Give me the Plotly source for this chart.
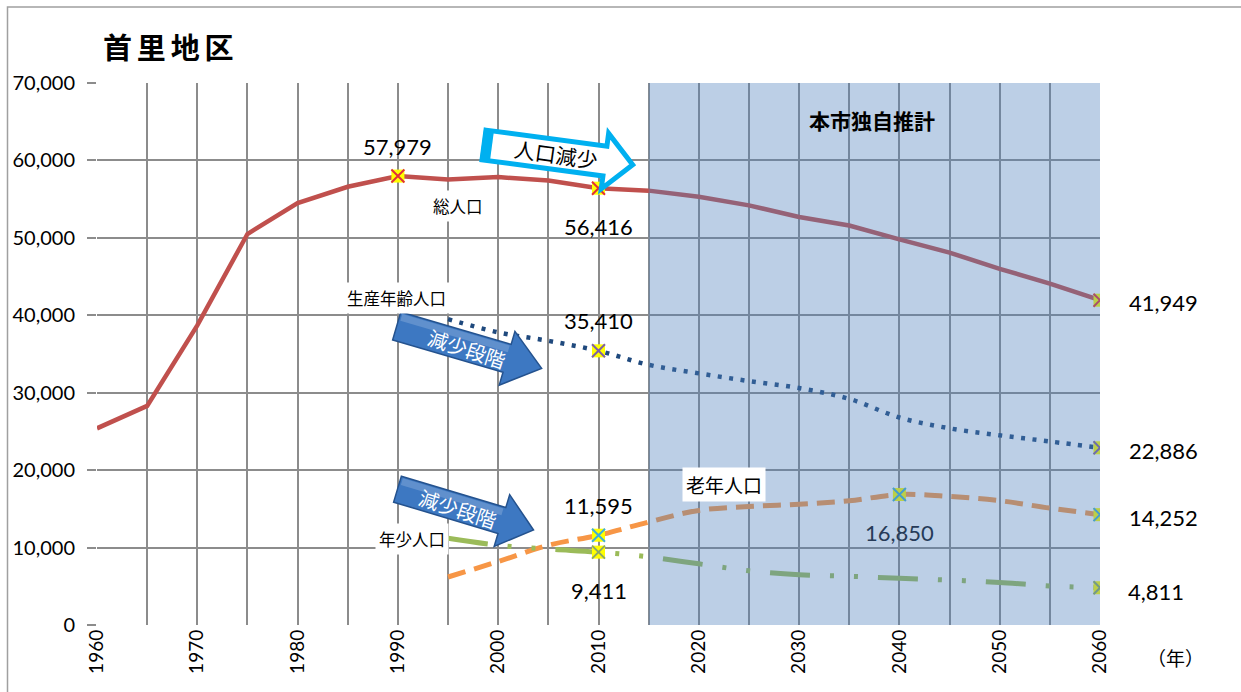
import math
import plotly.graph_objects as go

# ---- data -------------------------------------------------------------
years = [1960, 1965, 1970, 1975, 1980, 1985, 1990, 1995, 2000, 2005, 2010,
         2015, 2020, 2025, 2030, 2035, 2040, 2045, 2050, 2055, 2060]

total_pop = [25400, 28300, 38700, 50500, 54500, 56600, 57979, 57550, 57850, 57400, 56416,
             56100, 55300, 54200, 52700, 51600, 49800, 48100, 46000, 44100, 41949]
working_pop = [None, None, None, None, None, None, None, 39500, 37800, 36700, 35410,
               33600, 32500, 31500, 30600, 29200, 26800, 25400, 24500, 23700, 22886]
elderly_pop = [None, None, None, None, None, None, None, 6200, 8200, 10300, 11595,
               13300, 14800, 15300, 15600, 16050, 16850, 16600, 16050, 15100, 14252]
youth_pop = [None, None, None, None, None, None, None, 11200, 10300, 9800, 9411,
             8800, 7900, 7000, 6500, 6300, 6030, 5800, 5500, 5040, 4811]

series_names = ["総人口", "生産年齢人口", "老年人口", "年少人口"]
tick_years = list(range(1960, 2061, 5))
projection_start = 2015

# highlighted points: (series index, year)
highlight = {
    0: [1990, 2010, 2060],
    1: [2010, 2060],
    2: [2010, 2040, 2060],
    3: [2010, 2060],
}

# ---- geometry helpers (pixel -> paper) ----------------------------------
W_FIG, H_FIG = 1241, 692
M_L, M_R, M_T, M_B = 97, 141, 83, 67
PW = W_FIG - M_L - M_R
PH = H_FIG - M_T - M_B


def px(x):
    return (x - M_L) / PW


def py(y):
    return (H_FIG - M_B - y) / PH


def poly_path(pts):
    return "M " + " L ".join(f"{px(x):.5f},{py(y):.5f}" for x, y in pts) + " Z"


def arrow_pts(x0, y0, ang_deg, length, body_h, head_h, head_len):
    a = math.radians(ang_deg)
    c, s = math.cos(a), math.sin(a)
    local = [(0, -body_h), (length - head_len, -body_h), (length - head_len, -head_h),
             (length, 0), (length - head_len, head_h), (length - head_len, body_h), (0, body_h)]
    return [(x0 + u * c - v * s, y0 + u * s + v * c) for u, v in local]


def quad_pts(x0, y0, ang_deg, u0, u1, v0, v1):
    a = math.radians(ang_deg)
    c, s = math.cos(a), math.sin(a)
    local = [(u0, v0), (u1, v0), (u1, v1), (u0, v1)]
    return [(x0 + u * c - v * s, y0 + u * s + v * c) for u, v in local]


# ---- styles ------------------------------------------------------------
NUM_FONT = "Lato, 'Open Sans', sans-serif"
JP_FONT = "'Noto Sans CJK JP', sans-serif"
GRID = "#8c8c8c"

line_styles = [
    dict(color="#C0504D", width=4.5),
    dict(color="#1F497D", width=4.5, dash="4px,7.5px"),
    dict(color="#F79646", width=5, dash="18px,9px"),
    dict(color="#9BBB59", width=5, dash="40px,20px,4px,20px,4px,20px"),
]
line_shapes = ["linear", "spline", "spline", "spline"]
x_colors = ["#E0303A", "#7F5FA8", "#3FB0D8", "#8AA86A"]

all_series = [total_pop, working_pop, elderly_pop, youth_pop]

fig = go.Figure()

for i, vals in enumerate(all_series):
    fig.add_trace(go.Scatter(
        x=years, y=vals, mode="lines", name=series_names[i],
        line=dict(shape=line_shapes[i], **line_styles[i]),
        connectgaps=False, hoverinfo="skip", showlegend=False,
    ))

for i, vals in enumerate(all_series):
    hx = highlight[i]
    hy = [vals[years.index(yr)] for yr in hx]
    fig.add_trace(go.Scatter(
        x=hx, y=hy, mode="markers", showlegend=False, hoverinfo="skip",
        marker=dict(symbol="square", size=13, color="#FFFF00", line=dict(width=0)),
    ))
    fig.add_trace(go.Scatter(
        x=hx, y=hy, mode="markers", showlegend=False, hoverinfo="skip",
        marker=dict(symbol="x-thin-open", size=13, color=x_colors[i],
                    line=dict(width=2, color=x_colors[i])),
    ))

# ---- value labels --------------------------------------------------------
def val(series, yr):
    return series[years.index(yr)]


value_labels = [
    (total_pop, 1990, 0, 30, "center", "black"),
    (total_pop, 2010, 0, -38, "center", "black"),
    (working_pop, 2010, 0, 30, "center", "black"),
    (elderly_pop, 2010, 0, 30, "center", "black"),
    (youth_pop, 2010, 0, -38, "center", "black"),
    (elderly_pop, 2040, 0, -38, "center", "#263b58"),
    (total_pop, 2060, 27, -2, "left", "black"),
    (working_pop, 2060, 27, -3, "left", "black"),
    (elderly_pop, 2060, 27, -3, "left", "black"),
    (youth_pop, 2060, 26, -4, "left", "black"),
]

annotations = []
for series, yr, xs, ys, anchor, col in value_labels:
    v = val(series, yr)
    annotations.append(dict(
        x=yr, y=v, xref="x", yref="y", text=f"{v:,}", showarrow=False,
        xanchor=anchor, yanchor="middle", xshift=xs, yshift=ys,
        font=dict(family=NUM_FONT, size=22, color=col),
    ))

# series name labels
name_labels = [
    (series_names[0], 458, 206, 16.5),
    (series_names[1], 396, 298, 16.5),
    (series_names[3], 412, 539, 16.5),
    (series_names[2], 724, 484, 19),
]
for txt, x, y, size in name_labels:
    annotations.append(dict(
        x=px(x), y=py(y), xref="paper", yref="paper", text=txt, showarrow=False,
        xanchor="center", yanchor="middle", bgcolor="white", borderpad=3,
        font=dict(family=JP_FONT, size=size, color="black"),
    ))

# title, projection note, unit
annotations += [
    dict(x=px(168), y=py(46), xref="paper", yref="paper",
         text="<b>首\u2006里\u2006地\u2006区</b>",
         showarrow=False, xanchor="center", yanchor="middle",
         font=dict(family=JP_FONT, size=29, color="black")),
    dict(x=px(872), y=py(120), xref="paper", yref="paper", text="<b>本市独自推計</b>",
         showarrow=False, xanchor="center", yanchor="middle",
         font=dict(family=JP_FONT, size=21, color="black")),
    dict(x=px(1175), y=py(657), xref="paper", yref="paper", text="（年）",
         showarrow=False, xanchor="center", yanchor="middle",
         font=dict(family=JP_FONT, size=19, color="black")),
]

# arrow captions
annotations += [
    dict(x=px(556), y=py(154), xref="paper", yref="paper", text="人口減少",
         showarrow=False, textangle=8, xanchor="center", yanchor="middle",
         font=dict(family=JP_FONT, size=21, color="black")),
    dict(x=px(467), y=py(348), xref="paper", yref="paper", text="減少段階",
         showarrow=False, textangle=18, xanchor="center", yanchor="middle",
         font=dict(family=JP_FONT, size=20, color="white")),
    dict(x=px(458), y=py(508), xref="paper", yref="paper", text="減少段階",
         showarrow=False, textangle=18, xanchor="center", yanchor="middle",
         font=dict(family=JP_FONT, size=20, color="white")),
]

# ---- shapes ----------------------------------------------------------------
ARROW_BLUE = "#3d78c2"
ARROW_EDGE = "#24528e"
shapes = [
    # outer frame
    dict(type="rect", xref="paper", yref="paper",
         x0=px(7.5), x1=px(1250), y0=py(7), y1=py(700),
         line=dict(color="#a0a0a0", width=1.5), fillcolor="rgba(0,0,0,0)", layer="below"),
    # projection period overlay
    dict(type="rect", xref="x", yref="y", x0=projection_start, x1=2060, y0=-250, y1=70000,
         fillcolor="rgba(79,129,189,0.38)", line=dict(width=0), layer="above"),
    # 人口減少 arrow
    dict(type="path", xref="paper", yref="paper",
         path=poly_path(arrow_pts(484, 145, 7.6, 150, 15, 28, 28)),
         fillcolor="white", line=dict(color="#00B0F0", width=5), layer="above"),
    dict(type="path", xref="paper", yref="paper",
         path=poly_path(quad_pts(484, 145, 7.6, -2, 8, -16, 16)),
         fillcolor="#00B0F0", line=dict(width=0), layer="above"),
    # 減少段階 arrows (body, top highlight, striped tail)
    dict(type="path", xref="paper", yref="paper",
         path=poly_path(arrow_pts(396.7, 326, 16.3, 151, 14.5, 28, 36)),
         fillcolor=ARROW_BLUE, line=dict(color=ARROW_EDGE, width=1.5), layer="above"),
    dict(type="path", xref="paper", yref="paper",
         path=poly_path(quad_pts(396.7, 326, 16.3, 2, 114, -13, -6)),
         fillcolor="rgba(255,255,255,0.18)", line=dict(width=0), layer="above"),
    dict(type="path", xref="paper", yref="paper",
         path=poly_path(arrow_pts(397.5, 489.2, 16.7, 142, 13.5, 27, 33)),
         fillcolor=ARROW_BLUE, line=dict(color=ARROW_EDGE, width=1.5), layer="above"),
    dict(type="path", xref="paper", yref="paper",
         path=poly_path(quad_pts(397.5, 489.2, 16.7, 2, 107, -12, -5)),
         fillcolor="rgba(255,255,255,0.18)", line=dict(width=0), layer="above"),
]

fig.update_layout(
    width=W_FIG, height=H_FIG,
    margin=dict(l=M_L, r=M_R, t=M_T, b=M_B),
    paper_bgcolor="white", plot_bgcolor="white",
    showlegend=False,
    shapes=shapes,
    annotations=annotations,
    xaxis=dict(
        range=[1960, 2060], tickmode="array", tickvals=tick_years,
        ticktext=[str(y) if y % 10 == 0 else "" for y in tick_years],
        tickangle=-90, showgrid=True, gridcolor=GRID, gridwidth=2,
        zeroline=False, showline=False, ticks="",
        tickfont=dict(family=NUM_FONT, size=19, color="black"),
    ),
    yaxis=dict(
        range=[0, 70000], dtick=10000, tickformat=",", showgrid=True,
        gridcolor=GRID, gridwidth=2, zeroline=False, showline=False,
        ticks="outside", ticklen=9, tickcolor=GRID, tickwidth=2,
        ticklabelstandoff=8,
        tickfont=dict(family=NUM_FONT, size=20, color="black"),
    ),
)

fig.write_html("out.html")
